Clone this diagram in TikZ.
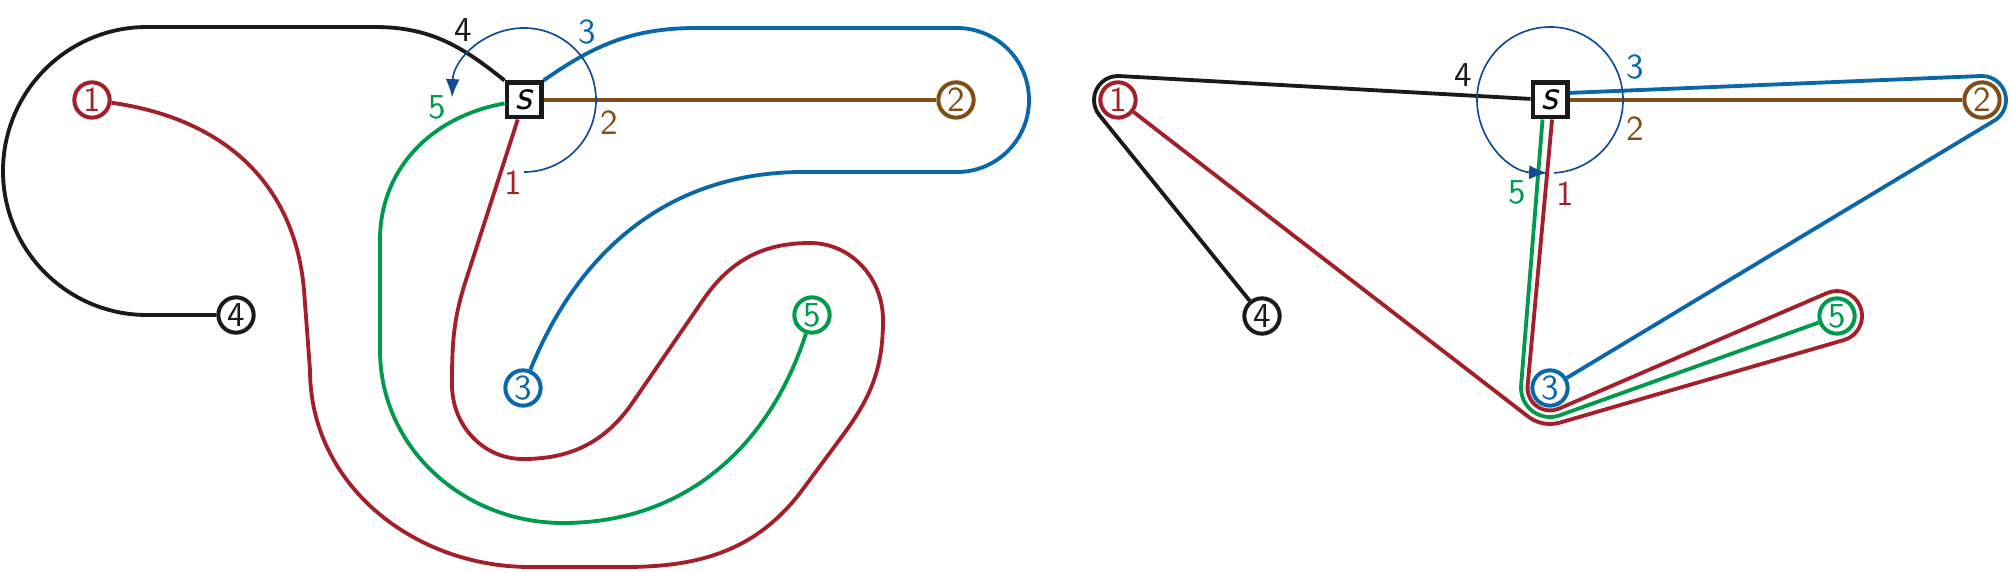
\documentclass[tikz,border=0pt]{standalone}
\usepackage{xcolor}
\usepackage{tikz}
\usetikzlibrary{calc,arrows.meta,backgrounds}
\tikzset{
  vtx/.style={circle, draw, fill=white, line width=1.2pt, minimum size=10.6pt,
              inner sep=0pt, font=\sffamily\fontsize{10.5}{12}\selectfont},
  srcbox/.style={rectangle, draw=edgefour, fill=white, line width=1.3pt, minimum size=10.4pt,
                 inner sep=0pt, font=\sffamily\itshape\fontsize{13}{15}\selectfont},
  wire/.style={line width=1.15pt, line join=round},
  lbl/.style={font=\sffamily\fontsize{10.5}{12}\selectfont, inner sep=0pt},
  rot/.style={draw=turnblue, line width=0.5pt, -{Latex[length=5.5pt, width=4.2pt]}},
}
\definecolor{edgeone}{HTML}{A3202B}
\definecolor{edgetwo}{HTML}{7F4D18}
\definecolor{edgethree}{HTML}{0A68A8}
\definecolor{edgefour}{HTML}{1A1A1A}
\definecolor{edgefive}{HTML}{009A4C}
\definecolor{turnblue}{HTML}{0F4C94}

\begin{document}
\begin{tikzpicture}[x=0.3pt, y=0.3pt]
    \useasboundingbox (0,0) rectangle (2012,-572);

    %% --- left: planar drawing ---
    \node[srcbox] (lt_s) at (524,-100) {s};
    \node[vtx, draw=edgeone, text=edgeone] (lt_1) at (92,-100) {1};
    \node[vtx, draw=edgetwo, text=edgetwo] (lt_2) at (956,-100) {2};
    \node[vtx, draw=edgethree, text=edgethree] (lt_3) at (523,-388) {3};
    \node[vtx, draw=edgefour, text=edgefour] (lt_4) at (236,-315) {4};
    \node[vtx, draw=edgefive, text=edgefive] (lt_5) at (812,-315) {5};
    \begin{scope}[on background layer]
      \draw[wire, edgetwo] (lt_s) -- (lt_2);
      \draw[wire, edgefour] (lt_4) -- (147,-315) arc[start angle=270, end angle=90, radius=144]
            -- (375,-27) to[out=0, in=141] (lt_s.north west);
      \draw[wire, edgethree] (lt_s.north east) to[out=35, in=180] (697,-28) -- (957,-28)
            arc[start angle=90, end angle=-90, radius=72] -- (803,-172) to[out=180, in=68] (lt_3);
      \draw[wire, edgefive] (lt_s) to[out=190, in=90] (380,-240) -- (380,-350)
            to[out=-90, in=180] (563,-523) to[out=0, in=-108] (lt_5);
      \draw[wire, edgeone] (lt_s) -- (466,-280) to[out=-108, in=90] (452,-385)
            to[out=-90, in=180] (523,-459) to[out=0, in=235.5] (633,-402) -- (703,-300)
            to[out=55.5, in=180] (810,-243) to[out=0, in=90] (883,-320)
            to[out=-90, in=53.5] (843,-435) -- (803,-489)
            to[out=233.5, in=0] (625,-567) -- (530,-567)
            to[out=180, in=-90] (310,-370) -- (304,-290)
            to[out=95, in=-8, looseness=1.05] (lt_1);
    \end{scope}
    \draw[rot] ($(lt_s)+(-90:72)$) arc[start angle=-90, end angle=178, radius=72];
    \node[lbl, text=edgeone] (lt_l1) at (513,-183) {1};
    \node[lbl, text=edgetwo] (lt_l2) at (609,-123) {2};
    \node[lbl, text=edgethree] (lt_l3) at (587,-32) {3};
    \node[lbl, text=edgefour] (lt_l4) at (463,-30) {4};
    \node[lbl, text=edgefive] (lt_l5) at (437,-107) {5};

    %% --- right: straight-line drawing ---
    \node[srcbox] (rt_s) at (1550,-100) {s};
    \node[vtx, draw=edgeone, text=edgeone] (rt_1) at (1118,-100) {1};
    \node[vtx, draw=edgetwo, text=edgetwo] (rt_2) at (1982,-100) {2};
    \node[vtx, draw=edgethree, text=edgethree] (rt_3) at (1550,-388) {3};
    \node[vtx, draw=edgefour, text=edgefour] (rt_4) at (1262,-316) {4};
    \node[vtx, draw=edgefive, text=edgefive] (rt_5) at (1837,-316) {5};
    \begin{scope}[on background layer]
      \draw[wire, edgetwo] (rt_s) -- (rt_2);
      \draw[wire, edgefour] (rt_s) -- ($(rt_1)+(86.7:24)$)
            arc[start angle=86.7, end angle=219, radius=24] -- (rt_4);
      \draw[wire, edgethree] (rt_s.20) -- ($(rt_2)+(92.4:24)$)
            arc[start angle=92.4, end angle=-59, radius=24] -- (rt_3);
      \draw[wire, edgefive] (rt_s.-111) -- ($(rt_3)+(175.3:29)$)
            arc[start angle=175.3, end angle=289.7, radius=29] -- (rt_5);
      \draw[wire, edgeone] (rt_s.-84) -- ($(rt_3)+(174.8:22.5)$)
            arc[start angle=174.8, end angle=293.3, radius=22.5] -- ($(rt_5)+(113.3:25)$)
            arc[start angle=113.3, end angle=-73.8, radius=25] -- ($(rt_3)+(-73.8:36)$)
            arc[start angle=-73.8, end angle=-127.7, radius=36] -- (rt_1);
    \end{scope}
    \draw[rot] ($(rt_s)+(-87:73)$) arc[start angle=-87, end angle=268, radius=73];
    \node[lbl, text=edgeone] (rt_l1) at (1565,-194) {1};
    \node[lbl, text=edgetwo] (rt_l2) at (1635,-129) {2};
    \node[lbl, text=edgethree] (rt_l3) at (1635,-67) {3};
    \node[lbl, text=edgefour] (rt_l4) at (1463,-75) {4};
    \node[lbl, text=edgefive] (rt_l5) at (1517,-192) {5};
\end{tikzpicture}
\end{document}
